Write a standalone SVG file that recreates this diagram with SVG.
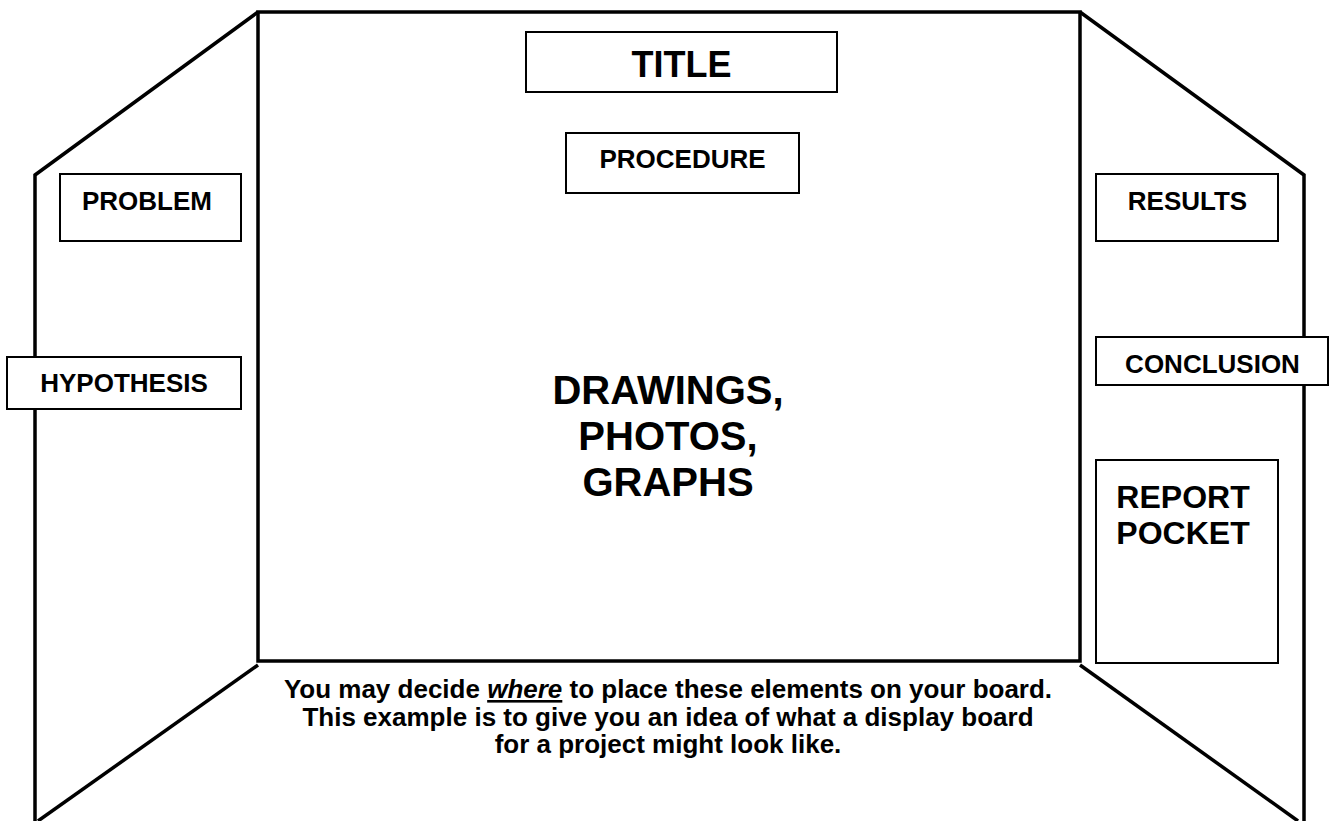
<svg xmlns="http://www.w3.org/2000/svg" width="1329" height="821" viewBox="0 0 1329 821">
<style>
.board{fill:none;stroke:#000;stroke-width:3.5;stroke-linejoin:miter}
.box{fill:#fff;stroke:#000;stroke-width:2}
.t{font-family:"Liberation Sans",Arial,sans-serif;font-weight:bold;fill:#000;text-anchor:middle}
.s26{font-size:26px}
</style>
<rect width="1329" height="821" fill="#fff"/>
<g id="board">
<rect class="board" x="258" y="12" width="822" height="649"/>
<polyline class="board" points="258,12 35,175 35,821"/>
<polyline class="board" points="1080,12 1304,175 1304,821"/>
<line class="board" x1="258" y1="665" x2="38" y2="821"/>
<line class="board" x1="1080" y1="665" x2="1298" y2="821"/>
</g>
<g id="connectors"/>
<g id="title">
<rect class="box" x="526" y="32" width="311" height="60"/>
<text class="t" x="681.5" y="77" font-size="36">TITLE</text>
</g>
<g id="procedure">
<rect class="box" x="566" y="133" width="233" height="60"/>
<text class="t s26" x="682.5" y="168">PROCEDURE</text>
</g>
<g id="problem">
<rect class="box" x="60" y="174" width="181" height="67"/>
<text class="t s26" x="147" y="210">PROBLEM</text>
</g>
<g id="results">
<rect class="box" x="1096" y="174" width="182" height="67"/>
<text class="t s26" x="1187.5" y="210">RESULTS</text>
</g>
<g id="hypothesis">
<rect class="box" x="7" y="357" width="234" height="52"/>
<text class="t s26" x="124" y="392">HYPOTHESIS</text>
</g>
<g id="conclusion">
<rect class="box" x="1096" y="337" width="232" height="48"/>
<text class="t s26" x="1212.5" y="373">CONCLUSION</text>
</g>
<g id="report-pocket">
<rect class="box" x="1096" y="460" width="182" height="203"/>
<text class="t" x="1183" y="508" font-size="32">REPORT</text>
<text class="t" x="1183" y="544" font-size="32">POCKET</text>
</g>
<g id="drawings">
<text class="t" x="668" y="404" font-size="40">DRAWINGS,</text>
<text class="t" x="668" y="450" font-size="40">PHOTOS,</text>
<text class="t" x="668" y="496" font-size="40">GRAPHS</text>
</g>
<g id="note">
<text class="t s26" x="668" y="698">You may decide <tspan font-style="italic" text-decoration="underline">where</tspan> to place these elements on your board.</text>
<text class="t s26" x="668" y="725.5">This example is to give you an idea of what a display board</text>
<text class="t s26" x="668" y="753">for a project might look like.</text>
</g>
</svg>
